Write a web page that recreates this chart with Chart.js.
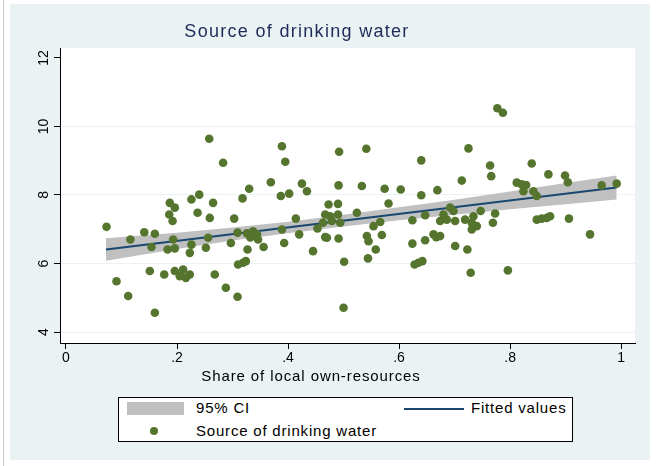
<!DOCTYPE html>
<html lang="en">
<head>
  <meta charset="UTF-8" />
  <title>Source of drinking water</title>
  <script src="https://cdn.jsdelivr.net/npm/chart.js"></script>
  <style>
    html, body {
      margin: 0;
      padding: 0;
      background: #fff;
      font-family: "Liberation Sans", Arial, sans-serif;
    }

    #wrap {
      position: relative;
      width: 656px;
      height: 466px;
      overflow: hidden;
    }

    #edge {
      position: absolute;
      left: 3px; top: 0;
      width: 1px; height: 466px;
      background: #c9c9c9;
    }

    #region {
      position: absolute;
      left: 10px; top: 4px;
      width: 640px; height: 456px;
      background: #eaf2f3;
    }

    canvas {
      position: absolute;
      left: 0; top: 0;
    }

    #title {
      position: absolute;
      left: 0; top: 20px;
      width: 594px;
      text-align: center;
      font-size: 18px;
      line-height: 22px;
      color: #1e2b5a;
      letter-spacing: 1.3px;
    }

    #xtitle {
      position: absolute;
      left: 0; top: 367px;
      width: 622px;
      text-align: center;
      font-size: 15px;
      line-height: 18px;
      color: #000;
      letter-spacing: 0.9px;
    }

    #legend {
      position: absolute;
      left: 118px; top: 397px;
      width: 453px; height: 43px;
      background: #fff;
      border: 1px solid #000;
      font-size: 15px;
      color: #000;
      letter-spacing: 0.8px;
    }

    #legend div, #legend span { position: absolute; }
    .swatch-ci { left: 8px; top: 4px; width: 57px; height: 13px; background: #c0c0c0; }
    .swatch-fit { left: 285px; top: 10px; width: 60px; height: 2px; background: #1a476f; }
    .swatch-dot { left: 31px; top: 29px; width: 8px; height: 8px; border-radius: 50%; background: #55752f; }
    .lbl { line-height: 18px; white-space: nowrap; }
  </style>
</head>
<body>
  <div id="wrap">
    <div id="edge"></div>
    <div id="region"></div>
    <canvas id="plot" width="656" height="466"></canvas>
    <div id="title">Source of drinking water</div>
    <div id="xtitle">Share of local own-resources</div>
    <div id="legend">
      <div class="swatch-ci"></div>
      <span class="lbl" style="left:77px; top:1px;">95% CI</span>
      <div class="swatch-fit"></div>
      <span class="lbl" style="left:352px; top:1px;">Fitted values</span>
      <div class="swatch-dot"></div>
      <span class="lbl" style="left:77px; top:24px;">Source of drinking water</span>
    </div>
  </div>

  <script>
    // scatter: share of local own-resources vs. source of drinking water
    const ownShare = [
      0.073, 0.091, 0.112, 0.116, 0.141, 0.160, 0.154, 0.151, 0.160, 0.177,
      0.187, 0.196, 0.186, 0.192, 0.193, 0.183, 0.196, 0.196, 0.211, 0.216,
      0.223, 0.205, 0.226, 0.240, 0.237, 0.226, 0.223, 0.259, 0.265, 0.256,
      0.252, 0.258, 0.268,
      0.283, 0.389, 0.395, 0.369, 0.425, 0.434, 0.330, 0.318, 0.387, 0.402,
      0.303, 0.414, 0.297, 0.309, 0.326, 0.337, 0.344, 0.332, 0.346, 0.327,
      0.356, 0.389, 0.393, 0.420, 0.445, 0.453, 0.463, 0.467, 0.310, 0.319,
      0.324, 0.288, 0.309,
      0.492, 0.541, 0.640, 0.491, 0.533, 0.574, 0.603, 0.640, 0.669, 0.473,
      0.490, 0.581, 0.476, 0.490, 0.494, 0.479, 0.467, 0.524, 0.566, 0.554,
      0.624, 0.647, 0.674, 0.470, 0.491, 0.542, 0.545, 0.569, 0.558, 0.624,
      0.647, 0.662, 0.667, 0.501, 0.544, 0.628, 0.635, 0.642, 0.500,
      0.777, 0.787, 0.725, 0.764, 0.766, 0.713, 0.839, 0.869, 0.812, 0.821,
      0.829, 0.824, 0.842, 0.848, 0.692, 0.698, 0.680, 0.686, 0.701, 0.719,
      0.734, 0.731, 0.740, 0.731, 0.747, 0.773, 0.769, 0.848, 0.857, 0.866,
      0.872, 0.674, 0.701, 0.723, 0.729, 0.796,
      0.899, 0.904, 0.965, 0.992, 0.906, 0.944
    ];
    const waterScore = [
      7.07, 5.48, 5.05, 6.70, 6.91, 6.87, 6.48, 5.78, 4.56, 5.68,
      7.77, 7.63, 7.43, 7.24, 6.70, 6.41, 6.44, 5.78, 5.82, 5.58,
      5.68, 5.63, 7.87, 8.01, 7.48, 6.55, 6.31, 7.33, 7.77, 6.75,
      6.46, 9.64, 5.68,
      8.94, 9.42, 8.97, 8.37, 8.33, 8.11, 8.18, 7.90, 7.97, 8.04,
      7.31, 7.31, 6.60, 6.90, 6.88, 6.94, 6.85, 6.76, 6.70, 6.41,
      6.48, 6.99, 6.60, 6.85, 6.36, 7.02, 7.19, 6.77, 5.97, 6.02,
      6.07, 5.29, 5.03,
      9.26, 9.35, 9.01, 8.28, 8.26, 8.18, 8.16, 7.99, 8.14, 7.72,
      7.74, 7.75, 7.38, 7.43, 7.19, 7.24, 7.43, 7.48, 7.21, 7.09,
      7.26, 7.41, 7.24, 6.75, 6.73, 6.80, 6.65, 6.83, 6.41, 6.58,
      6.68, 6.85, 6.77, 6.05, 6.15, 5.97, 6.02, 6.07, 4.71,
      10.53, 10.40, 9.36, 8.86, 8.55, 8.42, 8.92, 8.60, 8.36, 8.31,
      8.29, 8.11, 8.11, 7.97, 7.63, 7.53, 7.43, 7.28, 7.24, 7.28,
      7.38, 7.19, 7.09, 6.99, 7.53, 7.46, 7.19, 7.28, 7.31, 7.33,
      7.38, 6.80, 6.51, 6.41, 5.73, 5.80,
      8.57, 8.37, 8.28, 8.33, 7.31, 6.85
    ];

    // fitted line and its 95% band
    const fitX = [0.072, 0.992];
    const fitY = [6.41, 8.22];
    const ciX    = [0.072, 0.2, 0.3, 0.4, 0.5, 0.6, 0.7, 0.8, 0.9, 0.992];
    const ciLow  = [6.08, 6.42, 6.67, 6.88, 7.08, 7.26, 7.42, 7.58, 7.73, 7.87];
    const ciHigh = [6.74, 6.90, 7.05, 7.22, 7.42, 7.64, 7.86, 8.10, 8.35, 8.57];

    const xTickValues = [0, 0.2, 0.4, 0.6, 0.8, 1];
    const xTickLabels = ['0', '.2', '.4', '.6', '.8', '1'];
    const yTickValues = [4, 6, 8, 10, 12];
    const yTickLabels = ['4', '6', '8', '10', '12'];

    const toPoints = (xs, ys) => xs.map((x, i) => ({ x: x, y: ys[i] }));

    const plotBackground = {
      id: 'plotBackground',
      beforeDraw(chart) {
        const a = chart.chartArea;
        const ctx = chart.ctx;
        ctx.save();
        ctx.fillStyle = '#ffffff';
        ctx.fillRect(a.left, a.top, a.right - a.left, a.bottom - a.top);
        ctx.restore();
      }
    };

    // y tick labels read bottom-to-top, as in the original
    const rotatedYLabels = {
      id: 'rotatedYLabels',
      afterDraw(chart) {
        const y = chart.scales.y;
        const ctx = chart.ctx;
        ctx.save();
        ctx.fillStyle = '#000';
        ctx.font = '14px "Liberation Sans", Arial, sans-serif';
        ctx.textAlign = 'center';
        ctx.textBaseline = 'middle';
        yTickValues.forEach((v, i) => {
          ctx.save();
          ctx.translate(44, y.getPixelForValue(v));
          ctx.rotate(-Math.PI / 2);
          ctx.fillText(yTickLabels[i], 0, 0);
          ctx.restore();
        });
        ctx.restore();
      }
    };

    new Chart(document.getElementById('plot').getContext('2d'), {
      type: 'scatter',
      data: {
        datasets: [
          {
            label: 'ci-low',
            data: toPoints(ciX, ciLow),
            showLine: true,
            borderWidth: 0,
            borderColor: 'rgba(0,0,0,0)',
            pointRadius: 0,
            fill: false,
            order: 4
          },
          {
            label: '95% CI',
            data: toPoints(ciX, ciHigh),
            showLine: true,
            borderWidth: 0,
            borderColor: 'rgba(0,0,0,0)',
            backgroundColor: '#c0c0c0',
            pointRadius: 0,
            fill: '-1',
            order: 3
          },
          {
            label: 'Fitted values',
            data: toPoints(fitX, fitY),
            showLine: true,
            borderColor: '#1a476f',
            borderWidth: 2,
            pointRadius: 0,
            fill: false,
            order: 2
          },
          {
            label: 'Source of drinking water',
            data: toPoints(ownShare, waterScore),
            backgroundColor: '#55752f',
            borderWidth: 0,
            pointRadius: 4.3,
            pointHoverRadius: 4.3,
            order: 1
          }
        ]
      },
      options: {
        responsive: false,
        animation: false,
        layout: {
          padding: { left: 0, top: 48, right: 21, bottom: 93 }
        },
        plugins: {
          legend: { display: false },
          tooltip: { enabled: false },
          title: { display: false }
        },
        scales: {
          x: {
            type: 'linear',
            min: -0.0108,
            max: 1.025,
            afterFit(scale) { scale.height = 30; },
            afterBuildTicks(scale) { scale.ticks = xTickValues.map(v => ({ value: v })); },
            border: { display: true, color: '#000', width: 1 },
            grid: { color: 'rgba(0,0,0,0)', tickColor: '#000', tickLength: 6, drawOnChartArea: false },
            ticks: {
              color: '#000',
              font: { family: 'Liberation Sans', size: 14 },
              padding: 1,
              maxRotation: 0,
              callback: (v, i) => xTickLabels[i]
            }
          },
          y: {
            type: 'linear',
            min: 3.679,
            max: 12.29,
            afterFit(scale) { scale.width = 60; },
            afterBuildTicks(scale) { scale.ticks = yTickValues.map(v => ({ value: v })); },
            border: { display: true, color: '#000', width: 1 },
            grid: {
              color: ctx => (ctx.tick && ctx.tick.value === 12) ? 'rgba(0,0,0,0)' : '#eaf2f3',
              tickColor: '#000',
              tickLength: 6
            },
            ticks: { display: false }
          }
        }
      },
      plugins: [plotBackground, rotatedYLabels]
    });
  </script>
</body>
</html>
